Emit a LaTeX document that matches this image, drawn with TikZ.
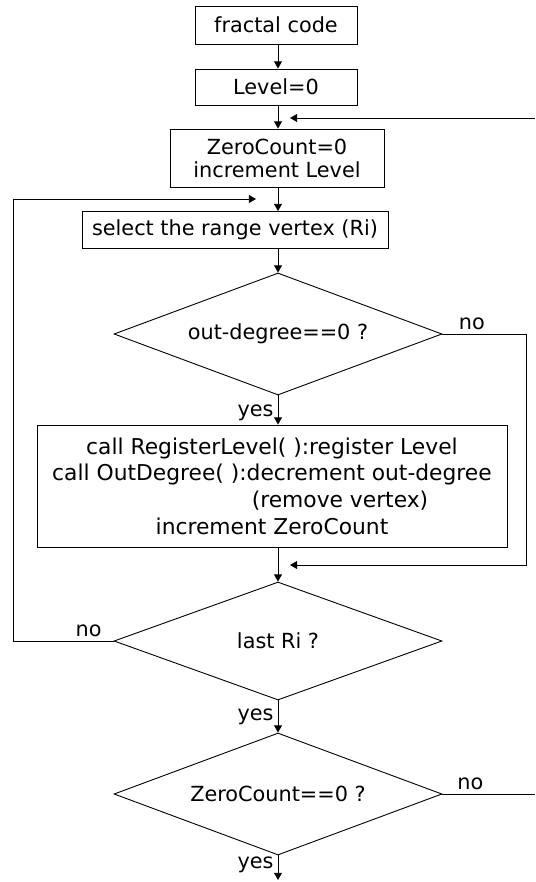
\documentclass[tikz,border=0pt]{standalone}
\usepackage{fontspec}
\setmainfont{DejaVu Sans}
\usetikzlibrary{shapes.geometric,arrows.meta}

\begin{document}
\begin{tikzpicture}[x=0.5pt,y=-0.5pt,
	font=\fontsize{10.4}{11.5}\selectfont,
	line width=0.45pt,
	>={Triangle[length=3.6pt,width=4pt]},
	box/.style={draw,rectangle,inner sep=0pt,align=center},
	cond/.style={draw,diamond,inner sep=0pt,aspect=2.7,minimum width=164pt,minimum height=61pt},
	lbl/.style={inner sep=2pt}]
	\useasboundingbox (0,0) rectangle (535,882);
	
	% process boxes
	\node[box,minimum width=81pt,minimum height=19pt] (fcode) at (276,25) {fractal code};
	\node[box,minimum width=81pt,minimum height=18pt] (lvl) at (276,87) {Level=0};
	\node[box,minimum width=107pt,minimum height=29pt] (zcnt) at (277,158) {ZeroCount=0\\increment Level};
	\node[box,minimum width=153pt,minimum height=18.5pt] (rsel) at (235,230) {select the range vertex (Ri)};
	\node[box,minimum width=235pt,minimum height=61pt,
		font=\fontsize{10.9}{13.3}\selectfont] (regbox) at (272,486)
		{call RegisterLevel( ):register Level\\
		call OutDegree( ):decrement out-degree\\
		\hspace*{68pt}(remove vertex)\\
		increment ZeroCount};
	
	% decisions
	\node[cond] (outdeg) at (278,334) {out-degree==0 ?};
	\node[cond,minimum height=59pt] (lastri) at (278,641) {last Ri ?};
	\node[cond] (zcheck) at (278,794) {ZeroCount==0 ?};
	
	% loose ends
	\coordinate (topfar) at (535,118);
	\coordinate (topin) at (290,118);
	\coordinate (rin) at (290,565);
	\coordinate (lin) at (256,199);
	\coordinate (endpt) at (278,880);
	
	% main line
	\draw[->] (fcode.south -| outdeg) -- (lvl.north -| outdeg);
	\draw[->] (lvl.south -| outdeg) -- (zcnt.north -| outdeg);
	\draw[->] (zcnt.south -| outdeg) -- (rsel.north -| outdeg);
	\draw[->] (rsel.south -| outdeg.north) -- (outdeg.north);
	\draw[->] (outdeg.south) -- node[lbl,left,pos=0.6]{yes} (outdeg.south |- regbox.north);
	\draw[->] (regbox.south -| lastri.north) -- (lastri.north);
	\draw[->] (lastri.south) -- node[lbl,left]{yes} (zcheck.north);
	\draw[->] (zcheck.south) -- node[lbl,left,pos=0.4]{yes} (endpt);
	
	% loops
	\draw[->] (topfar) -- (topin);
	\draw[->] (outdeg.east) -- node[lbl,above,pos=0.35]{no} ++(84,0) |- (rin);
	\draw[->] (lastri.west) -- node[lbl,above,pos=0.25]{no} ++(-100,0) |- (lin);
	\draw (zcheck.east) -- node[lbl,above,pos=0.3]{no} ++(93,0);
\end{tikzpicture}
\end{document}
